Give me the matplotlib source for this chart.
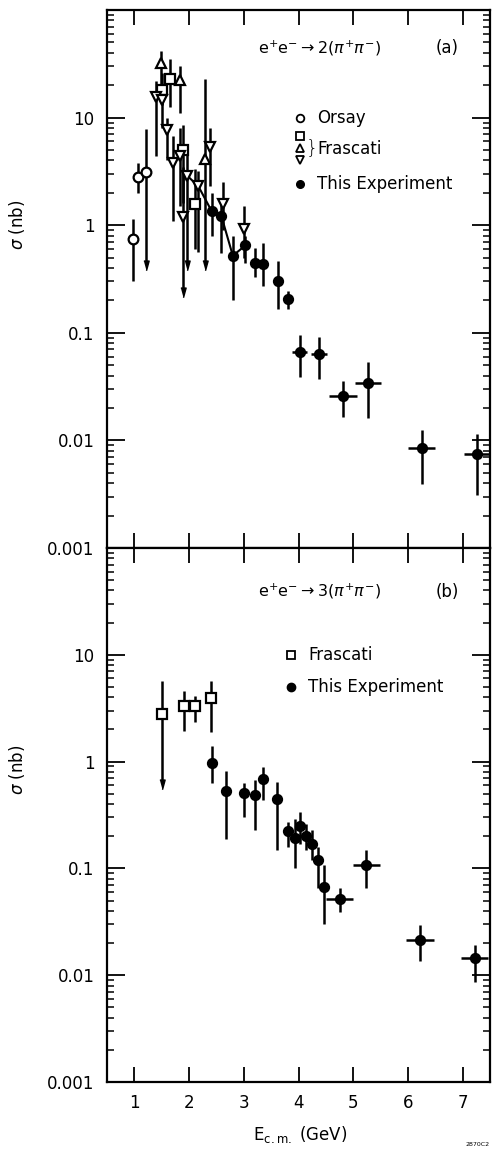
import matplotlib
matplotlib.use("Agg")
import matplotlib.pyplot as plt
import numpy as np
from matplotlib.ticker import LogLocator, NullFormatter, FixedLocator, FixedFormatter

# ---------------- data: panel (a)  e+e- -> 2(pi+pi-) ----------------
orsay_x = [0.97, 1.07, 1.22]
orsay_y = [0.74, 2.8, 3.1]
orsay_lo = [0.30, 2.0, 0.44]
orsay_hi = [1.15, 3.8, 7.8]
orsay_arrow = [False, False, True]

fsq_a_x = [1.50, 1.65, 1.89, 2.10]
fsq_a_y = [18.0, 23.0, 5.0, 1.56]
fsq_a_lo = [13.0, 12.6, 1.6, 0.6]
fsq_a_hi = [26.0, 35.0, 8.5, 3.3]
fsq_a_arrow = [False, False, False, False]

fup_a_x = [1.48, 1.84, 2.30]
fup_a_y = [32.0, 22.5, 4.1]
fup_a_lo = [14.0, 11.0, 0.44]
fup_a_hi = [42.0, 30.0, 23.0]
fup_a_arrow = [False, False, True]

fdn_a_x = [1.39, 1.50, 1.59, 1.70, 1.83, 1.88, 1.97, 2.17, 2.38, 2.62, 3.00]
fdn_a_y = [15.7, 14.7, 7.7, 3.8, 4.4, 1.19, 2.87, 2.3, 5.3, 1.56, 0.92]
fdn_a_lo = [4.4, 8.0, 4.0, 1.1, 1.5, 0.245, 0.44, 0.56, 2.3, 0.9, 0.5]
fdn_a_hi = [22.0, 20.0, 10.0, 6.7, 8.0, 3.5, 5.2, 3.2, 8.0, 2.5, 1.5]
fdn_a_arrow = [False, False, False, False, False, True, True, False, False, False, False]

this_a_x = [2.41, 2.59, 2.80, 3.03, 3.21, 3.36, 3.63, 3.81, 4.02, 4.37, 4.81, 5.27, 6.25, 7.26]
this_a_y = [1.36, 1.22, 0.52, 0.65, 0.45, 0.44, 0.30, 0.206, 0.066, 0.063, 0.026, 0.034, 0.0085, 0.0074]
this_a_lo = [0.8, 0.55, 0.2, 0.45, 0.33, 0.27, 0.166, 0.166, 0.039, 0.037, 0.0166, 0.016, 0.0039, 0.0031]
this_a_hi = [2.0, 1.6, 0.8, 0.8, 0.62, 0.68, 0.46, 0.245, 0.095, 0.092, 0.036, 0.054, 0.0126, 0.0115]
this_a_xerr = [0, 0, 0, 0, 0, 0, 0, 0, 0.14, 0.15, 0.26, 0.23, 0.24, 0.24]

curve_a_x = [1.97, 2.17, 2.41, 2.59, 2.80, 3.03]
curve_a_y = [2.87, 2.3, 1.36, 1.22, 0.52, 0.65]

# ---------------- data: panel (b)  e+e- -> 3(pi+pi-) ----------------
fsq_b_x = [1.50, 1.905, 2.11, 2.40]
fsq_b_y = [2.8, 3.3, 3.3, 3.9]
fsq_b_lo = [0.63, 1.95, 2.35, 1.9]
fsq_b_hi = [5.7, 4.6, 4.1, 5.7]
fsq_b_arrow = [True, False, False, False]

this_b_x = [2.41, 2.68, 3.00, 3.20, 3.35, 3.61, 3.81, 3.93, 4.03, 4.14, 4.24, 4.36, 4.47, 4.75, 5.24, 6.22, 7.22]
this_b_y = [0.98, 0.525, 0.51, 0.49, 0.68, 0.45, 0.223, 0.194, 0.25, 0.20, 0.17, 0.12, 0.067, 0.052, 0.108, 0.0214, 0.0144]
this_b_lo = [0.63, 0.19, 0.30, 0.23, 0.44, 0.15, 0.16, 0.10, 0.17, 0.15, 0.12, 0.065, 0.030, 0.039, 0.066, 0.0135, 0.0087]
this_b_hi = [1.4, 0.81, 0.63, 0.67, 0.89, 0.65, 0.27, 0.29, 0.34, 0.26, 0.23, 0.16, 0.107, 0.065, 0.15, 0.0295, 0.019]
this_b_xerr = [0, 0, 0, 0, 0, 0, 0, 0, 0, 0, 0, 0, 0, 0.25, 0.245, 0.255, 0.245]

ytick_vals = [0.001, 0.01, 0.1, 1, 10]
ytick_labels = ["0.001", "0.01", "0.1", "1", "10"]
xtick_vals = [1, 2, 3, 4, 5, 6, 7]

# ---------------- figure ----------------
plt.rcParams["font.family"] = ["DejaVu Sans"]
plt.rcParams["mathtext.fontset"] = "dejavusans"

W, H = 498, 1150
fig = plt.figure(figsize=(W / 100, H / 100), dpi=100)
left, right = 107 / W, 490 / W
ax_a = fig.add_axes([left, 1 - 548 / H, right - left, (548 - 10) / H])
ax_b = fig.add_axes([left, 1 - 1082 / H, right - left, (1082 - 548) / H])

ARROW = [(-0.42, 0.55), (0.42, 0.55), (0.0, -1.0)]
LW = 1.8


def draw(ax, x, y, lo, hi, marker, filled, arrows=None, xerr=None, ms=7):
    x = np.asarray(x, float)
    y = np.asarray(y, float)
    lo = np.asarray(lo, float)
    hi = np.asarray(hi, float)
    ax.errorbar(x, y, yerr=[y - lo, hi - y],
                xerr=None if xerr is None else np.asarray(xerr, float),
                fmt=marker, ms=ms, mfc="black" if filled else "white",
                mec="black", mew=1.6, ecolor="black", elinewidth=LW,
                capsize=0, zorder=3)
    if arrows is not None:
        m = np.asarray(arrows, bool)
        if m.any():
            ax.plot(x[m], lo[m], ls="none", marker=ARROW, ms=9,
                    color="black", zorder=3)


# panel (a)
ax_a.plot(curve_a_x, curve_a_y, color="black", lw=1.5, zorder=2)
draw(ax_a, orsay_x, orsay_y, orsay_lo, orsay_hi, "o", False, orsay_arrow)
draw(ax_a, fsq_a_x, fsq_a_y, fsq_a_lo, fsq_a_hi, "s", False, fsq_a_arrow, ms=6.5)
draw(ax_a, fup_a_x, fup_a_y, fup_a_lo, fup_a_hi, "^", False, fup_a_arrow)
draw(ax_a, fdn_a_x, fdn_a_y, fdn_a_lo, fdn_a_hi, "v", False, fdn_a_arrow)
draw(ax_a, this_a_x, this_a_y, this_a_lo, this_a_hi, "o", True, xerr=this_a_xerr, ms=6.5)

# panel (b)
draw(ax_b, fsq_b_x, fsq_b_y, fsq_b_lo, fsq_b_hi, "s", False, fsq_b_arrow, ms=6.5)
draw(ax_b, this_b_x, this_b_y, this_b_lo, this_b_hi, "o", True, xerr=this_b_xerr, ms=6.5)

FS = 12
for ax in (ax_a, ax_b):
    ax.set_yscale("log")
    ax.set_xlim(0.5, 7.5)
    ax.set_ylim(0.001, 100)
    ax.yaxis.set_major_locator(FixedLocator(ytick_vals))
    ax.yaxis.set_major_formatter(FixedFormatter(ytick_labels))
    ax.yaxis.set_minor_locator(LogLocator(base=10, subs=np.arange(2, 10), numticks=20))
    ax.yaxis.set_minor_formatter(NullFormatter())
    ax.xaxis.set_major_locator(FixedLocator(xtick_vals))
    ax.tick_params(axis="both", which="major", direction="in", length=11, width=1.3,
                   top=True, right=True, labelsize=FS, pad=9)
    ax.tick_params(axis="y", which="major", length=13)
    ax.tick_params(axis="both", which="minor", direction="in", length=5, width=1.1,
                   top=False, right=True)
    for s in ax.spines.values():
        s.set_linewidth(1.6)
    ax.set_ylabel(r"$\sigma$ (nb)", fontsize=FS)

ax_a.tick_params(axis="x", labelbottom=False)
ax_a.yaxis.set_label_coords(-0.209, 0.60)
ax_b.yaxis.set_label_coords(-0.209, 0.584)
ax_b.set_xlabel(r"E$_{\rm c.m.}$ (GeV)", fontsize=FS)
ax_b.xaxis.set_label_coords(0.504, -0.078)

# titles
TFS = 11.5
ax_a.text(0.394, 0.929, r"e$^{+}$e$^{-}$$\rightarrow$2($\pi^{+}\pi^{-}$)",
          transform=ax_a.transAxes, fontsize=TFS, va="center", ha="left")
ax_a.text(0.888, 0.929, "(a)", transform=ax_a.transAxes, fontsize=FS, va="center", ha="center")
ax_b.text(0.394, 0.918, r"e$^{+}$e$^{-}$$\rightarrow$3($\pi^{+}\pi^{-}$)",
          transform=ax_b.transAxes, fontsize=TFS, va="center", ha="left")
ax_b.text(0.888, 0.918, "(b)", transform=ax_b.transAxes, fontsize=FS, va="center", ha="center")

# legend (a)
lx = 0.505
tx = 0.548
ax_a.plot([lx], [0.799], "o", ms=5.5, mfc="white", mec="black", mew=1.3, transform=ax_a.transAxes)
ax_a.text(tx, 0.799, "Orsay", transform=ax_a.transAxes, fontsize=FS, va="center")
ax_a.plot([lx], [0.765], "s", ms=5.5, mfc="white", mec="black", mew=1.3, transform=ax_a.transAxes)
ax_a.plot([lx], [0.743], "^", ms=5.5, mfc="white", mec="black", mew=1.3, transform=ax_a.transAxes)
ax_a.plot([lx], [0.722], "v", ms=5.5, mfc="white", mec="black", mew=1.3, transform=ax_a.transAxes)
ax_a.text(0.518, 0.744, "}", transform=ax_a.transAxes, fontsize=14, va="center", ha="left",
          fontweight="light")
ax_a.text(tx, 0.741, "Frascati", transform=ax_a.transAxes, fontsize=FS, va="center")
ax_a.plot([lx], [0.677], "o", ms=5.5, mfc="black", mec="black", transform=ax_a.transAxes)
ax_a.text(tx, 0.677, "This Experiment", transform=ax_a.transAxes, fontsize=FS, va="center")

# legend (b)
ax_b.plot([0.48], [0.80], "s", ms=6, mfc="white", mec="black", mew=1.3, transform=ax_b.transAxes)
ax_b.text(0.525, 0.80, "Frascati", transform=ax_b.transAxes, fontsize=FS, va="center")
ax_b.plot([0.48], [0.74], "o", ms=6, mfc="black", mec="black", transform=ax_b.transAxes)
ax_b.text(0.525, 0.74, "This Experiment", transform=ax_b.transAxes, fontsize=FS, va="center")

fig.text(478 / W, 1 - 1144 / H, "2870C2", fontsize=4.5, ha="center", va="center")

fig.savefig("out.png", dpi=100)
